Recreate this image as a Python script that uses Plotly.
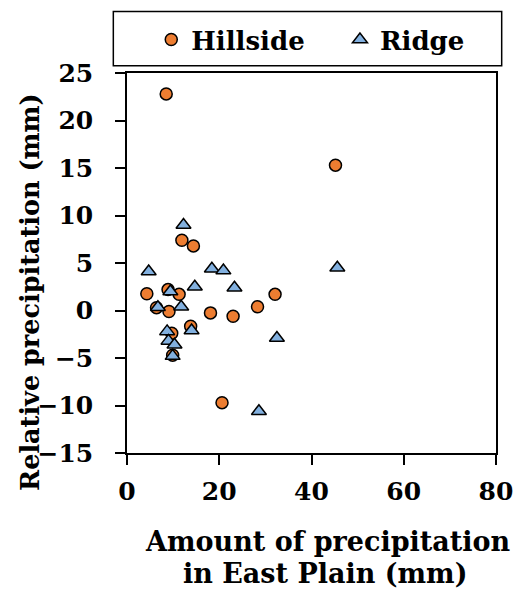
import plotly.graph_objects as go

# Data
hill_x = [4.3, 6.4, 8.5, 8.9, 9.1, 9.7, 9.9, 11.3, 11.9, 13.8, 14.4, 18.1, 20.6, 23.0, 28.3, 32.1, 45.2]
hill_y = [1.76, 0.3, 22.8, 2.2, -0.1, -2.4, -4.7, 1.7, 7.4, -1.65, 6.8, -0.25, -9.7, -0.6, 0.4, 1.7, 15.3]
ridge_x = [4.7, 6.7, 8.7, 9.0, 10.3, 9.9, 9.4, 11.75, 12.25, 14.0, 14.7, 18.4, 20.9, 23.3, 28.6, 32.5, 45.6]
ridge_y = [4.1, 0.35, -2.2, -3.2, -3.6, -4.8, 2.0, 0.4, 9.0, -2.1, 2.5, 4.4, 4.2, 2.4, -10.6, -2.9, 4.5]
x_ticks = [0, 20, 40, 60, 80]
y_ticks = [-15, -10, -5, 0, 5, 10, 15, 20, 25]

FONT = "DejaVu Serif"
W, H = 519, 590
L, R, T, B = 126.7, 496.3, 73.3, 452.7
PW, PH = R - L, B - T


def px_x(p):
    return (p - L) / PW


def px_y(p):
    return (B - p) / PH


fig = go.Figure()
fig.add_trace(go.Scatter(
    x=hill_x, y=hill_y, mode="markers", name="<b>Hillside</b>", legend="legend",
    marker=dict(symbol="circle", size=12, color="#ED7D31",
                line=dict(color="black", width=1.5)),
))
fig.add_trace(go.Scatter(
    x=ridge_x, y=ridge_y, mode="markers", name="<b>Ridge</b>", legend="legend2",
    marker=dict(symbol="triangle-up", size=13, color="#82B0DF",
                line=dict(color="black", width=1.5)),
))

axis_common = dict(
    showline=True, linecolor="black", linewidth=1.5, mirror=True,
    ticks="outside", ticklen=10, tickwidth=1.5, tickcolor="black",
    showgrid=False, zeroline=False,
    tickfont=dict(family=FONT, size=25, color="black", weight="bold"),
)

fig.update_xaxes(range=[0, 80], tickvals=x_ticks, ticklabelstandoff=5, **axis_common)
fig.update_yaxes(range=[-15, 25], tickvals=y_ticks, ticklabelstandoff=17, **axis_common)

xt_font = dict(family=FONT, size=27, color="black")
yt_font = dict(family=FONT, size=25.5, color="black")
annotations = [
    dict(text="<b>Amount of precipitation</b>", x=px_x(328), y=px_y(541),
         xref="paper", yref="paper", xanchor="center", yanchor="middle",
         showarrow=False, font=xt_font),
    dict(text="<b>in East Plain (mm)</b>", x=px_x(325), y=px_y(573),
         xref="paper", yref="paper", xanchor="center", yanchor="middle",
         showarrow=False, font=xt_font),
    dict(text="<b>Relative precipitation (mm)</b>", x=px_x(29), y=px_y(291.5),
         xref="paper", yref="paper", xanchor="center", yanchor="middle",
         textangle=-90, showarrow=False, font=yt_font),
]

shapes = [
    dict(type="rect", xref="paper", yref="paper",
         x0=px_x(113), x1=px_x(502), y0=px_y(66), y1=px_y(12),
         line=dict(color="black", width=1.5), fillcolor="rgba(0,0,0,0)"),
]

leg_font = dict(family=FONT, size=26, color="black")
fig.update_layout(
    width=W, height=H,
    margin=dict(l=L, r=W - R, t=T, b=H - B, pad=0, autoexpand=False),
    paper_bgcolor="white", plot_bgcolor="white",
    showlegend=True,
    legend=dict(
        orientation="h", x=px_x(151), y=px_y(40), xanchor="left", yanchor="middle",
        font=leg_font, bgcolor="rgba(0,0,0,0)", borderwidth=0,
    ),
    legend2=dict(
        orientation="h", x=px_x(340), y=px_y(40), xanchor="left", yanchor="middle",
        font=leg_font, bgcolor="rgba(0,0,0,0)", borderwidth=0,
    ),
    annotations=annotations,
    shapes=shapes,
)

fig.write_html("out.html")
